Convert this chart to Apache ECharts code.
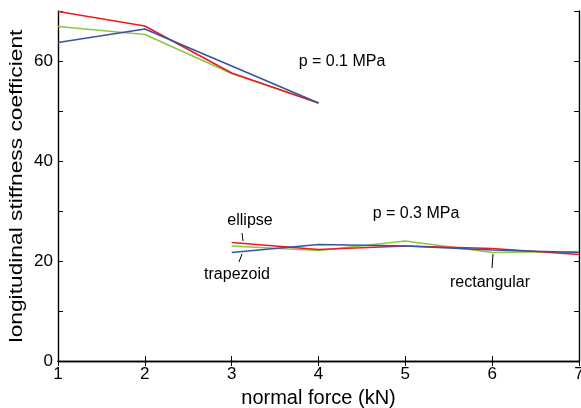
<!DOCTYPE html>
<html><head><meta charset="utf-8">
<script src="https://cdn.jsdelivr.net/npm/echarts@6/dist/echarts.min.js"></script>
<style>html,body{margin:0;padding:0;background:#fff}#c{width:581px;height:408px}</style>
</head><body><div id="c"></div>
<script>
var xLow = [1, 2, 3, 4];
var redLow = [69.9, 67.0, 57.6, 51.6];
var greenLow = [66.9, 65.3, 57.5, 51.6];
var blueLow = [63.7, 66.4, 59.0, 51.6];
var xHigh = [3, 4, 5, 6, 7];
var redHigh = [23.7, 22.3, 23.0, 22.5, 21.3];
var greenHigh = [23.0, 22.1, 24.0, 21.7, 21.9];
var blueHigh = [21.7, 23.3, 23.0, 22.2, 21.7];

var RED = '#ec1c24', GREEN = '#8dc63f', BLUE = '#3953a4';
var FONT = 'Liberation Sans, Arial, sans-serif';
function pairs(xs, ys){ return xs.map(function(x,i){return [x, ys[i]];}); }
function line(name, xs, ys, color){
  return {name:name, type:'line', data:pairs(xs,ys), showSymbol:false, symbol:'none',
    lineStyle:{color:color, width:1.7}, itemStyle:{color:color}, animation:false, xAxisIndex:0, yAxisIndex:0};
}
var axLine = {lineStyle:{color:'#000', width:1.4}};
var axTick = {inside:true, length:5, lineStyle:{color:'#000', width:1}};
var chart = echarts.init(document.getElementById('c'));
chart.setOption({
  animation:false,
  grid:{left:58, right:2, top:11, bottom:47, outerBoundsMode:'none', containLabel:false},
  xAxis:[
    {type:'value', min:1, max:7, interval:1, position:'bottom',
     axisLine:axLine, axisTick:axTick, splitLine:{show:false},
     axisLabel:{color:'#000', fontSize:17, fontFamily:FONT, margin:5},
     name:'normal force (kN)', nameLocation:'middle', nameGap:27,
     nameTextStyle:{color:'#000', fontSize:20, fontFamily:FONT}},
    {type:'value', min:1, max:7, interval:1, position:'top',
     axisLine:axLine, axisTick:axTick, splitLine:{show:false}, axisLabel:{show:false}}
  ],
  yAxis:[
    {type:'value', min:0, max:70, interval:10, position:'left',
     axisLine:axLine, axisTick:axTick, splitLine:{show:false},
     axisLabel:{color:'#000', fontSize:17, fontFamily:FONT, margin:5,
       formatter:function(v){return v % 20 === 0 ? String(v) : '';}}},
    {type:'value', min:0, max:70, interval:10, position:'right',
     axisLine:axLine, axisTick:axTick, splitLine:{show:false}, axisLabel:{show:false}}
  ],
  series:[
    line('green 0.1', xLow, greenLow, GREEN),
    line('red 0.1', xLow, redLow, RED),
    line('blue 0.1', xLow, blueLow, BLUE),
    line('green 0.3', xHigh, greenHigh, GREEN),
    line('red 0.3', xHigh, redHigh, RED),
    line('blue 0.3', xHigh, blueHigh, BLUE)
  ]
});
var txt = {fill:'#000', fontSize:16, fontFamily:FONT, align:'center', verticalAlign:'middle'};
function t(s, x, y){ return {type:'text', x:x, y:y, style:Object.assign({text:s}, txt)}; }
function l(x1,y1,x2,y2){ return {type:'line', shape:{x1:x1,y1:y1,x2:x2,y2:y2}, style:{stroke:'#000', lineWidth:1}}; }
chart.setOption({graphic:[
  {type:'text', x:17, y:186, rotation:Math.PI/2, scaleX:1.3,
   style:{text:'longitudinal stiffness coefficient', fill:'#000', fontSize:17.5, fontFamily:FONT, align:'center', verticalAlign:'middle'}},
  t('p = 0.1 MPa', 342, 62),
  t('p = 0.3 MPa', 416, 214),
  t('ellipse', 250, 221),
  t('trapezoid', 237, 275),
  t('rectangular', 490, 283),
  l(242, 233, 243, 241),
  l(242, 254, 239, 262),
  l(493, 254, 492, 268)
]});
</script></body></html>
